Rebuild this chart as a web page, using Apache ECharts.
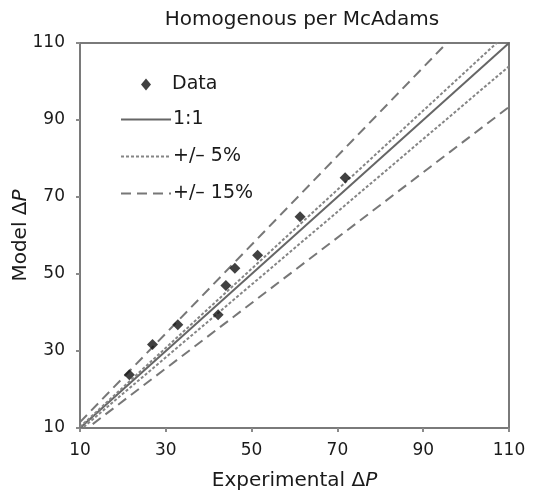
<!DOCTYPE html>
<html>
<head>
<meta charset="utf-8">
<script src="https://cdn.jsdelivr.net/npm/echarts@6/dist/echarts.min.js"></script>
<style>
  html, body { margin: 0; padding: 0; background: #fff; }
  #chart { width: 537px; height: 494px; }
</style>
</head>
<body>
<div id="chart"></div>
<script>
// measured data points (Experimental dP, Model dP)
const expDP = [21.5, 26.9, 32.8, 42.2, 44.0, 46.1, 51.4, 61.3, 71.8];
const modelDP = [23.8, 31.7, 36.8, 39.4, 47.0, 51.5, 54.9, 64.9, 75.0];

// reference line slopes as drawn
const oneToOne = [1];
const band5 = [1.027, 0.945];
const band15 = [1.152, 0.849];

const axisTicks = [10, 30, 50, 70, 90, 110];
const lineEnds = [10, 110];

const font = 'DejaVu Sans, sans-serif';
const txt = '#1a1a1a';

const refLine = (name, k, type, color) => ({
    name: name,
    type: 'line',
    symbol: 'none',
    clip: true,
    silent: true,
    lineStyle: { color: color, width: 2, type: type },
    itemStyle: { color: color },
    data: lineEnds.map(x => [x, x * k]),
    z: 2
});

const series = [
    {
        name: 'Data',
        type: 'scatter',
        symbol: 'diamond',
        symbolSize: 11,
        itemStyle: { color: '#111' },
        data: expDP.map((x, i) => [x, modelDP[i]]),
        z: 5
    }
];
oneToOne.forEach(k => series.push(refLine('1:1', k, 'solid', '#666')));
band5.forEach(k => series.push(refLine('+/\u2013 5%', k, [3, 2], '#858585')));
band15.forEach(k => series.push(refLine('+/\u2013 15%', k, [10, 6], '#777')));

const axisCommon = {
    type: 'value',
    min: axisTicks[0],
    max: axisTicks[axisTicks.length - 1],
    interval: 20,
    nameLocation: 'middle',
    nameMoveOverlap: false,
    axisLine: { show: true, lineStyle: { color: '#7a7a7a', width: 2 } },
    axisTick: { show: true, length: 4, lineStyle: { color: '#8a8a8a', width: 2 } },
    splitLine: { show: false },
    axisLabel: { fontFamily: font, fontSize: 17, color: txt },
    nameTextStyle: {
        fontFamily: font, fontSize: 20, color: txt,
        rich: { i: { fontFamily: font, fontSize: 20, fontStyle: 'italic', color: txt } }
    }
};

const legendText = { fontFamily: font, fontSize: 19, color: txt };

const chart = echarts.init(document.getElementById('chart'));
chart.setOption({
    animation: false,
    backgroundColor: '#fff',
    title: {
        text: 'Homogenous per McAdams',
        left: 302,
        textAlign: 'center',
        top: 10,
        padding: 0,
        textStyle: { fontFamily: font, fontSize: 20, fontWeight: 'normal', color: txt }
    },
    grid: {
        left: 80, right: 28, top: 43, bottom: 66,
        outerBoundsMode: 'none',
        containLabel: false,
        show: true, borderColor: '#7a7a7a', borderWidth: 2
    },
    legend: [
        {
            orient: 'vertical',
            left: 141,
            top: 75,
            padding: 0,
            itemWidth: 10,
            itemHeight: 12,
            data: ['Data'],
            textStyle: Object.assign({ padding: [0, 0, 0, 16] }, legendText)
        },
        {
            orient: 'vertical',
            left: 120,
            top: 110,
            padding: 0,
            itemWidth: 50,
            itemHeight: 14,
            itemGap: 18,
            itemStyle: { opacity: 0 },
            data: ['1:1', '+/\u2013 5%', '+/\u2013 15%'],
            textStyle: Object.assign({ padding: [0, 0, 0, -3] }, legendText)
        }
    ],
    xAxis: Object.assign({}, axisCommon, {
        name: 'Experimental \u0394{i|P}',
        nameGap: 43,
        axisLabel: Object.assign({}, axisCommon.axisLabel, { margin: 14 })
    }),
    yAxis: Object.assign({}, axisCommon, {
        name: 'Model \u0394{i|P}',
        nameGap: 49,
        axisLabel: Object.assign({}, axisCommon.axisLabel, { margin: 15 })
    }),
    series: series
});
</script>
</body>
</html>
